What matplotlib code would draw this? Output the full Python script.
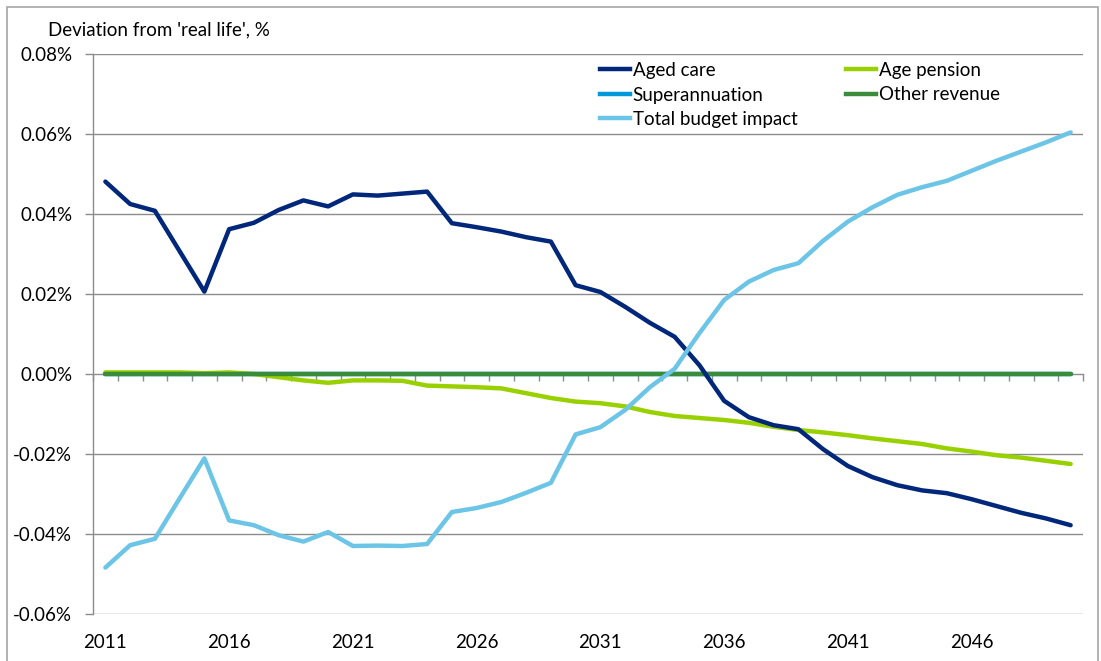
import matplotlib
matplotlib.use("Agg")
import matplotlib.pyplot as plt
import matplotlib.transforms as mtransforms
from matplotlib.patches import Rectangle
from matplotlib.lines import Line2D

plt.rcParams['font.family'] = ['Lato', 'DejaVu Sans']

years = list(range(2011, 2051))
year_labels = ["2011", "2016", "2021", "2026", "2031", "2036", "2041", "2046"]

# Deviation from 'real life', % of GDP
aged_care = [0.0481, 0.0425, 0.0408, 0.0307, 0.0206, 0.0362, 0.0378, 0.0410, 0.0434, 0.0419,
             0.0449, 0.0446, 0.0451, 0.0456, 0.0377, 0.0367, 0.0356, 0.0342, 0.0331, 0.0222,
             0.0205, 0.0168, 0.0128, 0.0093, 0.0022, -0.0067, -0.0108, -0.0128, -0.0138, -0.0188,
             -0.0230, -0.0258, -0.0278, -0.0291, -0.0298, -0.0313, -0.0330, -0.0347, -0.0361, -0.0378]
age_pension = [0.0004, 0.0004, 0.0004, 0.0004, 0.0002, 0.0004, 0.0000, -0.0008, -0.0016, -0.0022,
               -0.0016, -0.0016, -0.0017, -0.0029, -0.0031, -0.0033, -0.0036, -0.0048, -0.0060, -0.0069,
               -0.0073, -0.0081, -0.0095, -0.0105, -0.0110, -0.0115, -0.0122, -0.0132, -0.0140, -0.0146,
               -0.0153, -0.0161, -0.0168, -0.0175, -0.0186, -0.0194, -0.0203, -0.0209, -0.0217, -0.0225]
superannuation = [0.0] * 40
other_revenue = [0.0] * 40
total_budget = [-0.0484, -0.0428, -0.0412, -0.0311, -0.0211, -0.0366, -0.0378, -0.0403, -0.0419, -0.0395,
                -0.0430, -0.0429, -0.0430, -0.0425, -0.0345, -0.0335, -0.0320, -0.0297, -0.0272, -0.0151,
                -0.0133, -0.0090, -0.0033, 0.0013, 0.0102, 0.0185, 0.0231, 0.0260, 0.0277, 0.0333,
                0.0381, 0.0417, 0.0448, 0.0467, 0.0483, 0.0508, 0.0533, 0.0556, 0.0579, 0.0604]

y_ticks = [0.08, 0.06, 0.04, 0.02, 0.0, -0.02, -0.04, -0.06]
y_tick_labels = ["0.08%", "0.06%", "0.04%", "0.02%", "0.00%", "-0.02%", "-0.04%", "-0.06%"]

FS = 13.5
W, H = 1101, 661
fig = plt.figure(figsize=(W / 100, H / 100), dpi=100)
fig.patch.set_facecolor("white")

# chart-area border
fig.add_artist(Rectangle((7 / W, -0.01), (1098 - 7) / W, (H - 7) / H + 0.01,
                         transform=fig.transFigure, fill=False,
                         edgecolor="#a6a6a6", linewidth=1.2))

left, right, top, bottom = 93, 1083, 54, 614
ax = fig.add_axes([left / W, (H - bottom) / H, (right - left) / W, (bottom - top) / H])

x = list(range(len(years)))
grid_c = "#8c8c8c"

for yt in y_ticks:
    if yt != 0.0:
        ax.axhline(yt, color=grid_c, lw=1.0, zorder=1)

ax.plot(x, superannuation, color="#0098d8", lw=3.2, solid_capstyle="round", zorder=3)
ax.plot(x, other_revenue, color="#3a8c3a", lw=3.2, solid_capstyle="round", zorder=4)
ax.plot(x, age_pension, color="#99d100", lw=3.2, solid_capstyle="round", zorder=3)
ax.plot(x, aged_care, color="#00277a", lw=3.2, solid_capstyle="round", zorder=5)
ax.plot(x, total_budget, color="#6cc5e6", lw=3.2, solid_capstyle="round", zorder=5)

ax.set_xlim(-0.5, len(years) - 0.5)
ax.set_ylim(-0.06, 0.08)

for s in ["top", "right"]:
    ax.spines[s].set_visible(False)
ax.spines["left"].set_color(grid_c)
ax.spines["left"].set_linewidth(1.0)
ax.spines["bottom"].set_position(("data", 0))
ax.spines["bottom"].set_color(grid_c)
ax.spines["bottom"].set_linewidth(1.0)
ax.spines["bottom"].set_zorder(2)

ax.set_yticks(y_ticks)
ax.set_yticklabels(y_tick_labels)
ax.tick_params(axis="y", direction="out", length=6, width=1, color=grid_c,
               labelsize=FS, pad=9, labelcolor="black")

ax.set_xticks([i - 0.5 for i in range(len(years) + 1)])
ax.tick_params(axis="x", direction="out", length=5, width=1, color=grid_c,
               labelbottom=False)

trans = mtransforms.blended_transform_factory(ax.transData, fig.transFigure)
for lab in year_labels:
    i = years.index(int(lab))
    ax.text(i, (H - 643) / H, lab, transform=trans, ha="center", va="center",
            fontsize=FS, color="black")

fig.text(48 / W, (H - 30) / H, "Deviation from 'real life', %", ha="left", va="center",
         fontsize=FS, color="black")

handles = [
    Line2D([], [], color="#00277a", lw=3.2),
    Line2D([], [], color="#0098d8", lw=3.2),
    Line2D([], [], color="#6cc5e6", lw=3.2),
    Line2D([], [], color="#99d100", lw=3.2),
    Line2D([], [], color="#3a8c3a", lw=3.2),
]
labels = ["Aged care", "Superannuation", "Total budget impact", "Age pension", "Other revenue"]
leg = fig.legend(handles, labels, ncol=2, loc="upper left",
                 bbox_to_anchor=(600 / W, (H - 62) / H), frameon=False,
                 fontsize=FS, handlelength=1.6, handletextpad=0.15,
                 labelspacing=0.4, columnspacing=2.6, borderpad=0, borderaxespad=0)

fig.savefig("out.png", dpi=100, facecolor="white")
